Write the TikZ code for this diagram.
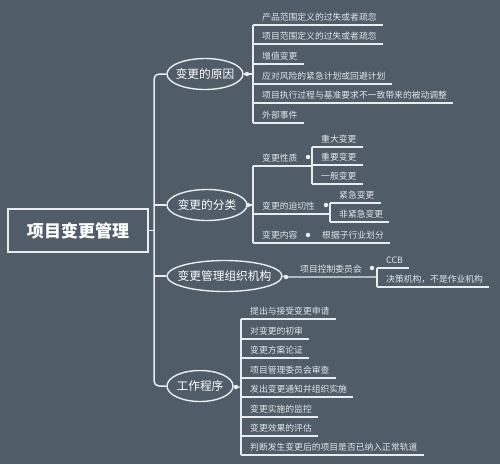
\documentclass[tikz,border=0pt]{standalone}
\usepackage{fontspec}
\setmainfont{Noto Sans CJK SC}
\usetikzlibrary{shapes.geometric}
\definecolor{bg}{HTML}{505C68}
\definecolor{lnc}{HTML}{E8ECEF}
\definecolor{tx}{HTML}{E2E6EA}
\tikzset{
  conn/.style={draw=lnc, line width=1.1pt},
  trunk/.style={draw=lnc, line width=1.5pt},
  item/.style={anchor=south west, inner xsep=0pt, inner ysep=4.5pt, text depth=0pt, text height=6.5pt,
    font=\fontsize{8.8}{10}\selectfont, text=tx,
    execute at begin node={\hspace*{9pt}}, execute at end node={\hspace*{6pt}}},
  bigell/.style={ellipse, draw=lnc, line width=1.4pt, fill=bg, text=white,
    font=\fontsize{11.7}{14}\selectfont, inner xsep=-8pt, inner ysep=0pt, minimum height=31pt},
  rootbox/.style={draw=lnc, line width=1.4pt, fill=bg, minimum width=140pt, minimum height=43pt,
    font=\fontsize{17}{20}\selectfont\bfseries, text=white},
  knob/.style={circle, fill=lnc, inner sep=0pt, minimum size=4.5pt}
}
\begin{document}
\begin{tikzpicture}[x=1pt,y=-1pt]
\fill[bg] (0,0) rectangle (500,464);
\useasboundingbox (0,0) rectangle (500,464);

% root and main branches
\node[rootbox] (root) at (78,230.5) {项目变更管理};
\node[bigell, minimum width=76pt] (e1) at (205,74) {变更的原因};
\node[bigell, minimum width=80pt] (e2) at (207,205) {变更的分类};
\node[bigell, minimum width=115pt] (e3) at (224.5,276) {变更管理组织机构};
\node[bigell, minimum width=66pt] (e4) at (200,386) {工作程序};
\coordinate (t) at (154,230.5);

% knobs (positions)
\coordinate (k1) at (247,74);
\coordinate (k2) at (248,205);
\coordinate (k3) at (286,277);
\coordinate (k4) at (236,387);
\coordinate (kb1) at (308,157);
\coordinate (kb2) at (326,205);
\coordinate (kb3) at (308,235);
\coordinate (kf1) at (372,268);

% items: causes
\node[item] (a1) at (253,25) {产品范围定义的过失或者疏忽};
\node[item] (a2) at (253,44) {项目范围定义的过失或者疏忽};
\node[item] (a3) at (253,64) {增值变更};
\node[item] (a4) at (253,84) {应对风险的紧急计划或回避计划};
\node[item] (a5) at (253,103) {项目执行过程与基准要求不一致带来的被动调整};
\node[item] (a6) at (253,123) {外部事件};

% items: classification
\node[item] (b1) at (253,166) {变更性质};
\node[item] (b2) at (253,214) {变更的迫切性};
\node[item] (b3) at (253,243) {变更内容};
\node[item] (c1) at (312,147) {重大变更};
\node[item] (c2) at (312,165) {重要变更};
\node[item] (c3) at (312,184) {一般变更};
\node[item] (d1) at (330,203) {紧急变更};
\node[item] (d2) at (330,222) {非紧急变更};
\node[item] (m1) at (313,243) {根据子行业划分};

% items: organisation
\node[item] (f1) at (291,277) {项目控制委员会};
\node[item] (g1) at (377,268) {CCB};
\node[item] (g2) at (377,287) {决策机构，不是作业机构};

% items: procedure
\node[item] (h1) at (241,319) {提出与接受变更申请};
\node[item] (h2) at (241,339) {对变更的初审};
\node[item] (h3) at (241,358) {变更方案论证};
\node[item] (h4) at (241,378) {项目管理委员会审查};
\node[item] (h5) at (241,397) {发出变更通知并组织实施};
\node[item] (h6) at (241,417) {变更实施的监控};
\node[item] (h7) at (241,436) {变更效果的评估};
\node[item] (h8) at (241,455) {判断发生变更后的项目是否已纳入正常轨道};

% trunk
\draw[trunk, rounded corners=5pt] (e1.west) -| (t) |- (e4.west);
\draw[trunk] (root.east) -- (t);
\draw[trunk] (e2.west) -- (e2.west -| t);
\draw[trunk] (e3.west) -- (e3.west -| t);

% causes connectors
\draw[conn] (e1.east) -- (k1) -- (k1 -| a1.south west);
\draw[conn] (a1.south west) -- (a6.south west);
\foreach \n in {a1,a2,a3,a4,a5,a6} \draw[conn] (\n.south west) -- (\n.south east);

% classification connectors
\draw[conn] (e2.east) -- (k2) -- (k2 -| b1.south west);
\draw[conn] (b1.south west) -- (b3.south west);
\draw[conn] (b1.south west) -- (c1.south west |- b1.south);
\draw[conn] (c1.south west) -- (c3.south west);
\foreach \n in {c1,c2,c3,d1,d2} \draw[conn] (\n.south west) -- (\n.south east);
\draw[conn] (b2.south west) -- (d1.south west |- b2.south);
\draw[conn] (d1.south west) -- (d2.south west);
\draw[conn] (b3.south west) -- (m1.south east);

% organisation connectors
\draw[conn] (e3.east) -- (k3) -- (g1.south west |- f1.south);
\draw[conn] (g1.south west) -- (g2.south west);
\foreach \n in {g1,g2} \draw[conn] (\n.south west) -- (\n.south east);

% procedure connectors
\draw[conn] (e4.east) -- (k4) -- (k4 -| h1.south west);
\draw[conn] (h1.south west) -- (h8.south west);
\foreach \n in {h1,h2,h3,h4,h5,h6,h7,h8} \draw[conn] (\n.south west) -- (\n.south east);

% knobs on top
\foreach \k in {k1,k2,k3,k4,kb1,kb2,kb3,kf1} \node[knob] at (\k) {};
\end{tikzpicture}
\end{document}
